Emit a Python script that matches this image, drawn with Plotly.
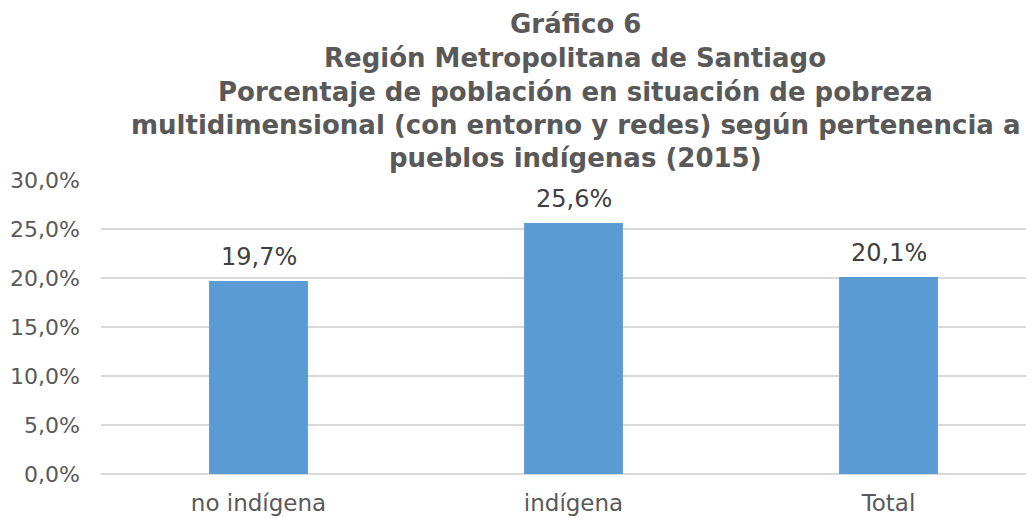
import plotly.graph_objects as go

categories = ["no indígena", "indígena", "Total"]
values = [0.197, 0.256, 0.201]
labels = ["19,7%", "25,6%", "20,1%"]
tick_vals = [0, 0.05, 0.10, 0.15, 0.20, 0.25, 0.30]
tick_text = ["0,0%", "5,0%", "10,0%", "15,0%", "20,0%", "25,0%", "30,0%"]
title_lines = [
    "Gráfico 6",
    "Región Metropolitana de Santiago",
    "Porcentaje de población en situación de pobreza",
    "multidimensional (con entorno y redes) según pertenencia a",
    "pueblos indígenas (2015)",
]

# page body has an 8px default margin, so the figure starts at (8, 8)
OFF = 8
W, H = 1034 - OFF, 519 - OFF
L, R, T, B = 101 - OFF, 0, 180 - OFF, 519 - 474
plot_w = W - L - R
plot_h = H - T - B
FONT = "DejaVu Sans, Verdana"

fig = go.Figure()
fig.add_trace(go.Bar(
    x=categories, y=values,
    marker=dict(color="#5B9BD5", line=dict(width=0)),
    width=0.314,
))

annotations = []
for c, v, t in zip(categories, values, labels):
    annotations.append(dict(
        text=t, x=c, y=v, xref="x", yref="y",
        xanchor="center", yanchor="middle", yshift=24, showarrow=False,
        font=dict(family=FONT, size=24, color="#404040"),
    ))

line_centers = [24, 58, 92, 125, 158]
for txt, py in zip(title_lines, line_centers):
    annotations.append(dict(
        text="<b>" + txt + "</b>", xref="paper", yref="paper",
        x=(575 - OFF - L) / plot_w, y=(H - B - (py - OFF)) / plot_h,
        xanchor="center", yanchor="middle", showarrow=False,
        font=dict(family=FONT, size=26, color="#595959"),
    ))

fig.update_layout(
    width=W, height=H,
    margin=dict(l=L, r=R, t=T, b=B, pad=0, autoexpand=False),
    paper_bgcolor="white", plot_bgcolor="white",
    showlegend=False,
    annotations=annotations,
    xaxis=dict(
        range=[-0.5, -0.5 + plot_w / 315.0],
        showgrid=False, showline=False, zeroline=False, ticks="",
        tickfont=dict(family=FONT, size=23, color="#595959"),
        ticklabelstandoff=13, automargin=False,
        fixedrange=True,
    ),
    yaxis=dict(
        range=[0, 0.30], tickvals=tick_vals, ticktext=tick_text,
        showgrid=True, gridcolor="#D9D9D9", gridwidth=2,
        zeroline=True, zerolinecolor="#D9D9D9", zerolinewidth=2,
        showline=False, ticks="",
        tickfont=dict(family=FONT, size=22, color="#595959"),
        ticklabelstandoff=20, automargin=False,
    ),
)

fig.write_html("out.html")
